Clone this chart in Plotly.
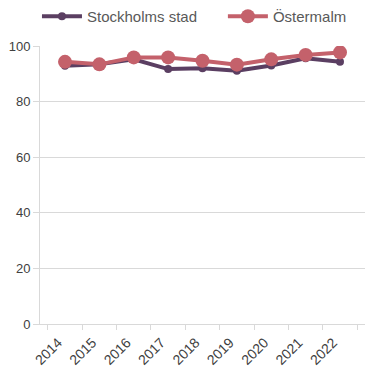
import plotly.graph_objects as go

years = ["2014", "2015", "2016", "2017", "2018", "2019", "2020", "2021", "2022"]
stockholm = [92.9, 93.4, 95.2, 91.7, 92.0, 91.1, 93.0, 95.6, 94.3]
ostermalm = [94.3, 93.4, 95.9, 95.9, 94.7, 93.3, 95.2, 96.8, 97.7]

fig = go.Figure()
fig.add_trace(go.Scatter(
    x=years, y=stockholm, name="Stockholms stad", mode="lines+markers",
    line=dict(color="#5b3f62", width=4),
    marker=dict(color="#5b3f62", size=8),
    legend="legend",
))
fig.add_trace(go.Scatter(
    x=years, y=ostermalm, name="Östermalm", mode="lines+markers",
    line=dict(color="#c4616b", width=4),
    marker=dict(color="#c4616b", size=14),
    legend="legend2",
))

legend_style = dict(orientation="h", xref="container", yref="container",
                    xanchor="left", y=1.0, yanchor="top",
                    font=dict(size=15, color="#595959"), itemwidth=40,
                    bgcolor="rgba(0,0,0,0)")

fig.update_layout(
    width=366, height=367,
    margin=dict(l=40, r=1, t=46, b=43),
    paper_bgcolor="white", plot_bgcolor="white",
    font=dict(family="Liberation Sans, Arial, sans-serif", color="#595959", size=13),
    legend=dict(x=0.101, **legend_style),
    legend2=dict(x=0.609, **legend_style),
    showlegend=True,
)
fig.update_xaxes(
    type="category", tickson="boundaries", ticks="outside", ticklen=5,
    tickcolor="#d9d9d9", showgrid=False, showline=True, linecolor="#d9d9d9",
    linewidth=1, tickangle=-45, tickfont=dict(size=14, color="#404040"),
    ticklabelshift=-7, ticklabelstandoff=4, automargin=False,
)
fig.update_yaxes(
    range=[0, 100], tickvals=[0, 20, 40, 60, 80, 100], showgrid=True,
    gridcolor="#d9d9d9", gridwidth=1, showline=True, linecolor="#d9d9d9",
    ticks="outside", ticklen=6, tickcolor="#d9d9d9", zeroline=False,
    tickfont=dict(size=13, color="#404040"), automargin=False,
)

fig.write_html("out.html")
